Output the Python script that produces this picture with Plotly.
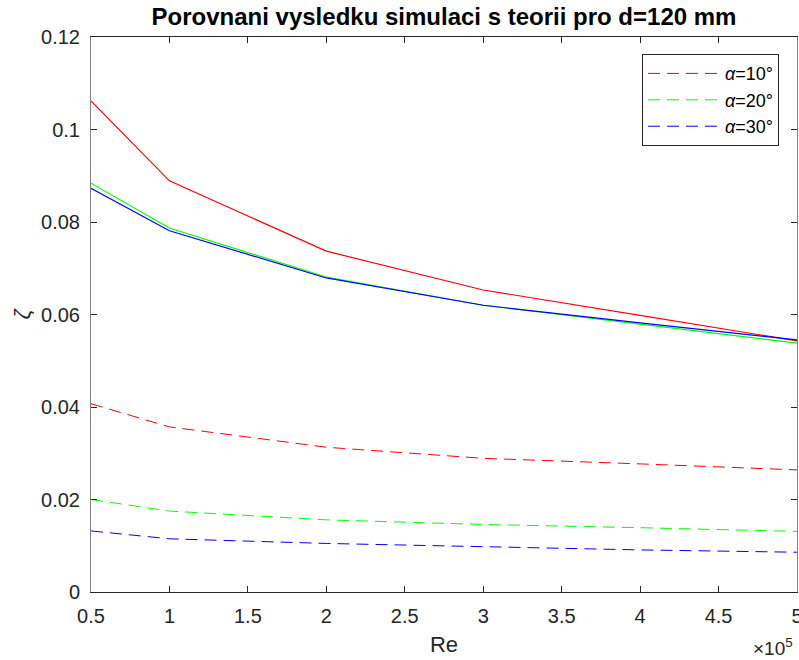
import plotly.graph_objects as go

re_x = [0.5, 1, 2, 3, 4, 5]

sim_10 = [0.1062, 0.0889, 0.0737, 0.0653, 0.0598, 0.0543]
sim_20 = [0.0884, 0.0787, 0.0681, 0.0620, 0.0579, 0.0538]
sim_30 = [0.0873, 0.0781, 0.0679, 0.0620, 0.0582, 0.0545]

theo_10 = [0.0407, 0.0357, 0.0313, 0.0289, 0.0277, 0.0264]
theo_20 = [0.0200, 0.0175, 0.0156, 0.0146, 0.0139, 0.0131]
theo_30 = [0.0132, 0.0115, 0.0105, 0.0098, 0.0091, 0.0086]

labels = ["<i>α</i>=10°", "<i>α</i>=20°", "<i>α</i>=30°"]
colors = ["#ff0000", "#00ff00", "#0000ff"]

x_ticks = [0.5, 1, 1.5, 2, 2.5, 3, 3.5, 4, 4.5, 5]
x_ticktext = ["0.5", "1", "1.5", "2", "2.5", "3", "3.5", "4", "4.5", "5"]
y_ticks = [0, 0.02, 0.04, 0.06, 0.08, 0.1, 0.12]
y_ticktext = ["0", "0.02", "0.04", "0.06", "0.08", "0.1", "0.12"]

FONT = "Liberation Sans, Arial, sans-serif"

fig = go.Figure()
for th, lab, c in zip([theo_10, theo_20, theo_30], labels, colors):
    fig.add_trace(go.Scatter(x=re_x, y=th, mode="lines", name=lab,
                             line=dict(color=c, width=1, dash="12px,7px")))
for sim, c in zip([sim_10, sim_20, sim_30], colors):
    fig.add_trace(go.Scatter(x=re_x, y=sim, mode="lines", showlegend=False,
                             line=dict(color=c, width=1.2)))

fig.update_layout(
    width=799, height=660,
    margin=dict(l=91, r=2, t=37, b=68),
    paper_bgcolor="white", plot_bgcolor="white",
    font=dict(family=FONT, size=20, color="#262626"),
    title=dict(text="<b>Porovnani vysledku simulaci s teorii pro d=120 mm</b>",
               x=0.5, xref="paper", xanchor="center",
               y=1 - 17 / 660, yref="container", yanchor="middle",
               font=dict(family=FONT, size=24, color="black")),
    legend=dict(x=0.9745, y=0.969, xanchor="right", yanchor="top",
                bordercolor="#262626", borderwidth=1, bgcolor="white",
                font=dict(family=FONT, size=18, color="black"),
                tracegroupgap=0, itemwidth=72),
    showlegend=True,
)
fig.update_xaxes(range=[0.5, 5], tickvals=x_ticks, ticktext=x_ticktext,
                 ticks="inside", ticklen=6, tickcolor="#262626",
                 ticklabelstandoff=6, automargin=False, ticklabeloverflow="allow",
                 showline=True, linecolor="#262626", linewidth=1, mirror="allticks",
                 showgrid=False, zeroline=False,
                 title=dict(text="Re", standoff=10, font=dict(size=22)))
fig.update_yaxes(range=[0, 0.12], tickvals=y_ticks, ticktext=y_ticktext,
                 ticks="inside", ticklen=6, tickcolor="#262626",
                 ticklabelstandoff=6, automargin=False,
                 showline=True, linecolor="#808080", linewidth=1, mirror="allticks",
                 showgrid=False, zeroline=False,
                 title=dict(text="<i>ζ</i>", standoff=4, font=dict(size=22)))
fig.add_annotation(text="×10<sup>5</sup>", xref="paper", yref="paper",
                   x=0.997, y=-0.124, xanchor="right", yanchor="bottom",
                   showarrow=False, font=dict(family=FONT, size=19, color="#262626"))

fig.write_html("out.html", config={"displayModeBar": False},
               post_script="document.body.style.margin='0';document.body.style.overflow='hidden';")
